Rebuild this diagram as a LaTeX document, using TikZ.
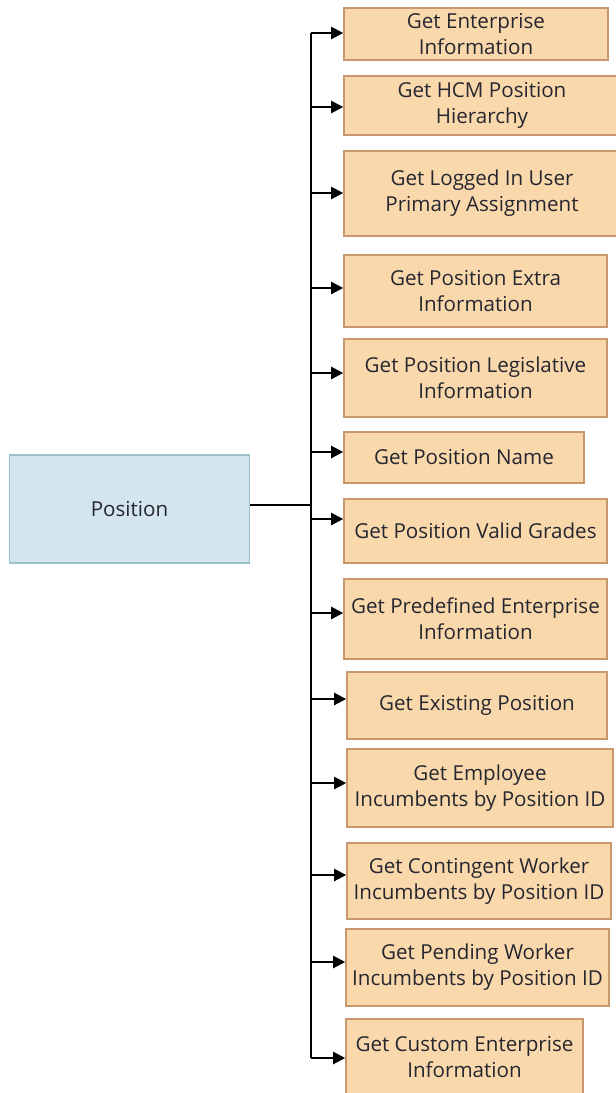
\documentclass[tikz,border=0pt]{standalone}
\usepackage{fontspec}
\setmainfont{Open Sans}
\usetikzlibrary{arrows.meta}
\definecolor{obox}{HTML}{F9D8AB}
\definecolor{oline}{HTML}{C9976D}
\definecolor{bbox}{HTML}{D3E6ED}
\definecolor{bline}{HTML}{9DC0CC}
\definecolor{txt}{HTML}{262630}
\tikzset{
  getbox/.style={draw=oline, fill=obox, line width=1.6pt, align=center, inner sep=0pt,
    text=txt, font=\fontsize{20.6pt}{26pt}\selectfont},
  rootbox/.style={draw=bline, fill=bbox, line width=1.6pt, align=center, inner sep=0pt,
    text=txt, font=\fontsize{20.6pt}{26pt}\selectfont},
  arr/.style={line width=2.2pt, -{Triangle[length=12pt,width=12pt]}},
  trunkline/.style={line width=2.2pt}
}
\begin{document}
\begin{tikzpicture}[x=1pt,y=1pt]
\useasboundingbox (0,0) rectangle (616,-1093);
\node[rootbox, minimum width=240pt, minimum height=108pt] (pos) at (129.5,-509) {Position};
\node[getbox, minimum width=264pt, minimum height=52pt] (b1) at (476,-34) {Get Enterprise\\Information};
\node[getbox, minimum width=276pt, minimum height=59pt] (b2) at (482,-105.5) {Get HCM Position\\Hierarchy};
\node[getbox, minimum width=276pt, minimum height=85pt] (b3) at (482,-193.5) {Get Logged In User\\Primary Assignment};
\node[getbox, minimum width=263pt, minimum height=72pt] (b4) at (475.5,-291) {Get Position Extra\\Information};
\node[getbox, minimum width=263pt, minimum height=78pt] (b5) at (475.5,-378) {Get Position Legislative\\Information};
\node[getbox, minimum width=240pt, minimum height=51pt] (b6) at (464,-457.5) {Get Position Name};
\node[getbox, minimum width=263pt, minimum height=64pt] (b7) at (475.5,-531) {Get Position Valid Grades};
\node[getbox, minimum width=263pt, minimum height=80pt] (b8) at (475.5,-619) {Get Predefined Enterprise\\Information};
\node[getbox, minimum width=260pt, minimum height=67pt] (b9) at (477,-705.5) {Get Existing Position};
\node[getbox, minimum width=266pt, minimum height=78pt] (b10) at (480,-788) {Get Employee\\Incumbents by Position ID};
\node[getbox, minimum width=264pt, minimum height=76pt] (b11) at (479,-881) {Get Contingent Worker\\Incumbents by Position ID};
\node[getbox, minimum width=263pt, minimum height=77pt] (b12) at (477.5,-967.5) {Get Pending Worker\\Incumbents by Position ID};
\node[getbox, minimum width=237pt, minimum height=76pt] (b13) at (464.5,-1057) {Get Custom Enterprise\\Information};
\coordinate (top) at (311,-33);
\coordinate (bot) at (311,-1058);
\draw[trunkline] (top) -- (bot);
\path ([yshift=4pt]pos.east) coordinate (pe);
\draw[trunkline] (pe) -- (pe -| top);
\foreach \i/\s in {1/1,2/-1.5,3/0.5,4/3,5/5,6/5.5,7/12,8/6,9/6.5,10/5,11/6,12/5.5,13/-1}{
  \path ([yshift=\s pt]b\i.west) coordinate (a\i);
  \draw[arr] (a\i -| top) -- (a\i);
}
\end{tikzpicture}
\end{document}
